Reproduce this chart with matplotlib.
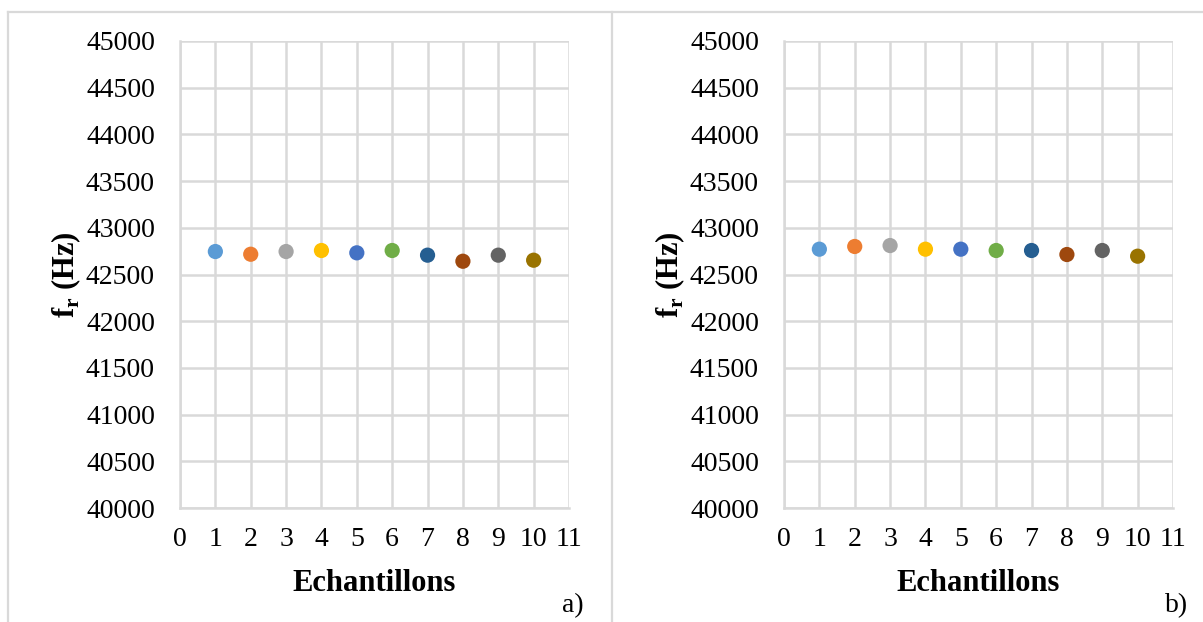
import matplotlib
matplotlib.use('Agg')
import matplotlib.pyplot as plt
from matplotlib.lines import Line2D

plt.rcParams['font.family'] = ['Liberation Serif', 'DejaVu Serif']
plt.rcParams['mathtext.fontset'] = 'custom'
plt.rcParams['mathtext.rm'] = 'Liberation Serif'
plt.rcParams['mathtext.bf'] = 'Liberation Serif:bold'

# données
echantillons = [1, 2, 3, 4, 5, 6, 7, 8, 9, 10]
fr_a = [42746, 42717, 42746, 42757, 42732, 42757, 42707, 42642, 42707, 42653]
fr_b = [42771, 42800, 42810, 42771, 42771, 42757, 42757, 42714, 42757, 42696]
couleurs = ['#5B9BD5', '#ED7D31', '#A5A5A5', '#FFC000', '#4472C4',
            '#70AD47', '#255E91', '#9E480E', '#636363', '#997300']
yticks = list(range(40000, 45001, 500))
xticks = list(range(0, 12))
panneaux = ['a)', 'b)']

W, H = 1203, 622
fig = plt.figure(figsize=(W / 100, H / 100), dpi=100)

gris = '#D9D9D9'
# cadre autour des deux graphes
fig.add_artist(Line2D([8 / W, 1], [1 - 12 / H, 1 - 12 / H], color=gris, lw=1.6, transform=fig.transFigure))
fig.add_artist(Line2D([8 / W, 8 / W], [0, 1 - 12 / H], color=gris, lw=1.6, transform=fig.transFigure))
fig.add_artist(Line2D([612 / W, 612 / W], [0, 1 - 12 / H], color=gris, lw=1.6, transform=fig.transFigure))

gauches = [180, 784]
for k, (data, lettre) in enumerate(zip([fr_a, fr_b], panneaux)):
    x0 = gauches[k]
    ax = fig.add_axes([x0 / W, (H - 508) / H, 389 / W, 467 / H])
    ax.set_xlim(0, 11)
    ax.set_ylim(40000, 45000)
    ax.set_xticks(xticks)
    ax.set_yticks(yticks)
    ax.grid(True, color=gris, lw=1.8)
    ax.set_axisbelow(True)
    for s in ['top', 'right']:
        ax.spines[s].set_visible(False)
    for s in ['left', 'bottom']:
        ax.spines[s].set_color(gris)
        ax.spines[s].set_linewidth(1.8)
    ax.tick_params(length=0, labelsize=20, colors='black')
    ax.tick_params(axis='y', pad=18)
    ax.tick_params(axis='x', pad=14)
    ax.scatter(echantillons, data, c=couleurs, s=120, zorder=3, linewidths=0)
    ax.set_xlabel('Echantillons', fontsize=22, fontweight='bold', labelpad=12)
    ax.set_ylabel(r'$\mathbf{f}_\mathbf{r}$ (Hz)', fontsize=22, fontweight='bold', labelpad=2)
    fig.text((x0 + 393) / W, 1 - 606 / H, lettre, fontsize=20, ha='center', va='center')

fig.savefig('out.png', dpi=100)
